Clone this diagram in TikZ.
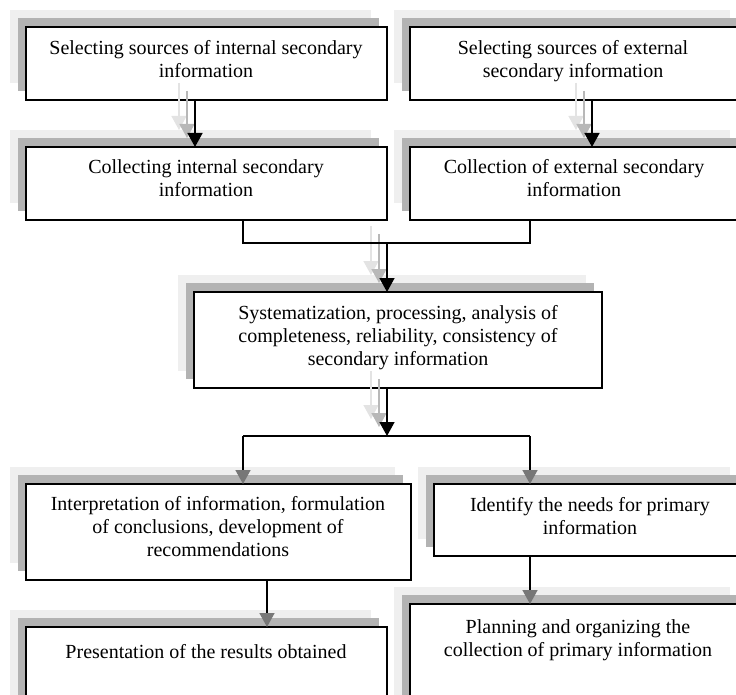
\documentclass[tikz,border=0pt]{standalone}
\usepackage{fontspec}
\setmainfont{Liberation Serif}
\usetikzlibrary{arrows.meta,shadows}
\definecolor{shadeDark}{HTML}{B3B3B3}
\definecolor{shadeLight}{HTML}{EFEFEF}
\definecolor{headGray}{HTML}{777777}
\definecolor{ghostDark}{HTML}{B8B8B8}
\definecolor{ghostLight}{HTML}{E3E3E3}
\begin{document}
\begin{tikzpicture}[x=1pt,y=-1pt,
  box/.style={draw, line width=1.6pt, fill=white, inner sep=0pt, outer sep=0pt,
    anchor=north west,
    general shadow={fill=shadeLight, shadow xshift=-16pt, shadow yshift=17pt},
    general shadow={fill=shadeDark, shadow xshift=-8pt, shadow yshift=9pt}},
  % captions hang from the top of their first line: first baseline sits 16.1pt below
  txt/.style={anchor=north, align=center, inner sep=0pt,
    font=\fontsize{20pt}{23pt}\selectfont, execute at begin node=\strut},
  link/.style={line width=1.5pt},
  mainarrow/.style={line width=1.5pt, -{Triangle[width=15pt,length=14pt]}},
  grayarrow/.style={line width=1.5pt, -{Triangle[width=15pt,length=14pt,color=headGray]}},
  ghostA/.style={line width=1.5pt, draw=ghostDark,
    -{Triangle[width=15pt,length=14pt,color=ghostDark]},
    transform canvas={shift={(-8pt,9pt)}}},
  ghostB/.style={line width=1.5pt, draw=ghostLight,
    -{Triangle[width=15pt,length=14pt,color=ghostLight]},
    transform canvas={shift={(-16pt,17pt)}}}
]
\useasboundingbox (0,0) rectangle (736,695);

% boxes
\node[box, minimum width=361pt, minimum height=73pt] (b1) at (26,27) {};
\node[box, minimum width=336pt, minimum height=73pt] (b2) at (410,27) {};
\node[box, minimum width=361pt, minimum height=73pt] (b3) at (26,147) {};
\node[box, minimum width=336pt, minimum height=73pt] (b4) at (410,147) {};
\node[box, minimum width=408pt, minimum height=96pt] (b5) at (194,292) {};
\node[box, minimum width=385pt, minimum height=96pt] (b6) at (26,484) {};
\node[box, minimum width=312pt, minimum height=72pt] (b7) at (434,484) {};
\node[box, minimum width=361pt, minimum height=90pt] (b8) at (26,627) {};
\node[box, minimum width=336pt, minimum height=110pt] (b9) at (410,604) {};

% captions (y = first baseline - 16.1)
\node[txt] (t1) at (206,40) {Selecting sources of internal secondary\\information};
\node[txt] (t2) at (573,40) {Selecting sources of external\\secondary information};
\node[txt] (t3) at (206,159) {Collecting internal secondary\\information};
\node[txt] (t4) at (574,159) {Collection of external secondary\\information};
\node[txt] (t5) at (398,305) {Systematization, processing, analysis of\\completeness, reliability, consistency of\\secondary information};
\node[txt] (t6) at (218,496) {Interpretation of information, formulation\\of conclusions, development of\\recommendations};
\node[txt] (t7) at (590,497) {Identify the needs for primary\\information};
\node[txt] (t8) at (206,642) {Presentation of the results obtained};
\node[txt] (t9) at (578,619) {Planning and organizing the\\collection of primary information};

% connector columns
\coordinate (cA) at (195,0);
\coordinate (cB) at (592,0);
\coordinate (cL) at (243,0);
\coordinate (cR) at (530,0);
\coordinate (cM) at (387,0);
\coordinate (cS) at (267,0);
\coordinate (join) at (387,243);
\coordinate (split) at (387,436);

% grey ghost arrows
\foreach \g in {ghostB, ghostA} {
  \draw[\g] (b1.south -| cA) -- (b3.north -| cA);
  \draw[\g] (b2.south -| cB) -- (b4.north -| cB);
  \draw[\g] (join) -- (b5.north -| cM);
  \draw[\g] (b5.south -| cM) -- (split);
}

% main connectors
\draw[mainarrow] (b1.south -| cA) -- (b3.north -| cA);
\draw[mainarrow] (b2.south -| cB) -- (b4.north -| cB);
\draw[link] (b3.south -| cL) |- (join);
\draw[link] (b4.south -| cR) |- (join);
\draw[mainarrow] (join) -- (b5.north -| cM);
\draw[mainarrow] (b5.south -| cM) -- (split);
\draw[link] (split -| cL) -- (split -| cR);
\draw[grayarrow] (split -| cL) -- (b6.north -| cL);
\draw[grayarrow] (split -| cR) -- (b7.north -| cR);
\draw[grayarrow] (b7.south -| cR) -- (b9.north -| cR);
\draw[grayarrow] (b6.south -| cS) -- (b8.north -| cS);
\end{tikzpicture}
\end{document}
